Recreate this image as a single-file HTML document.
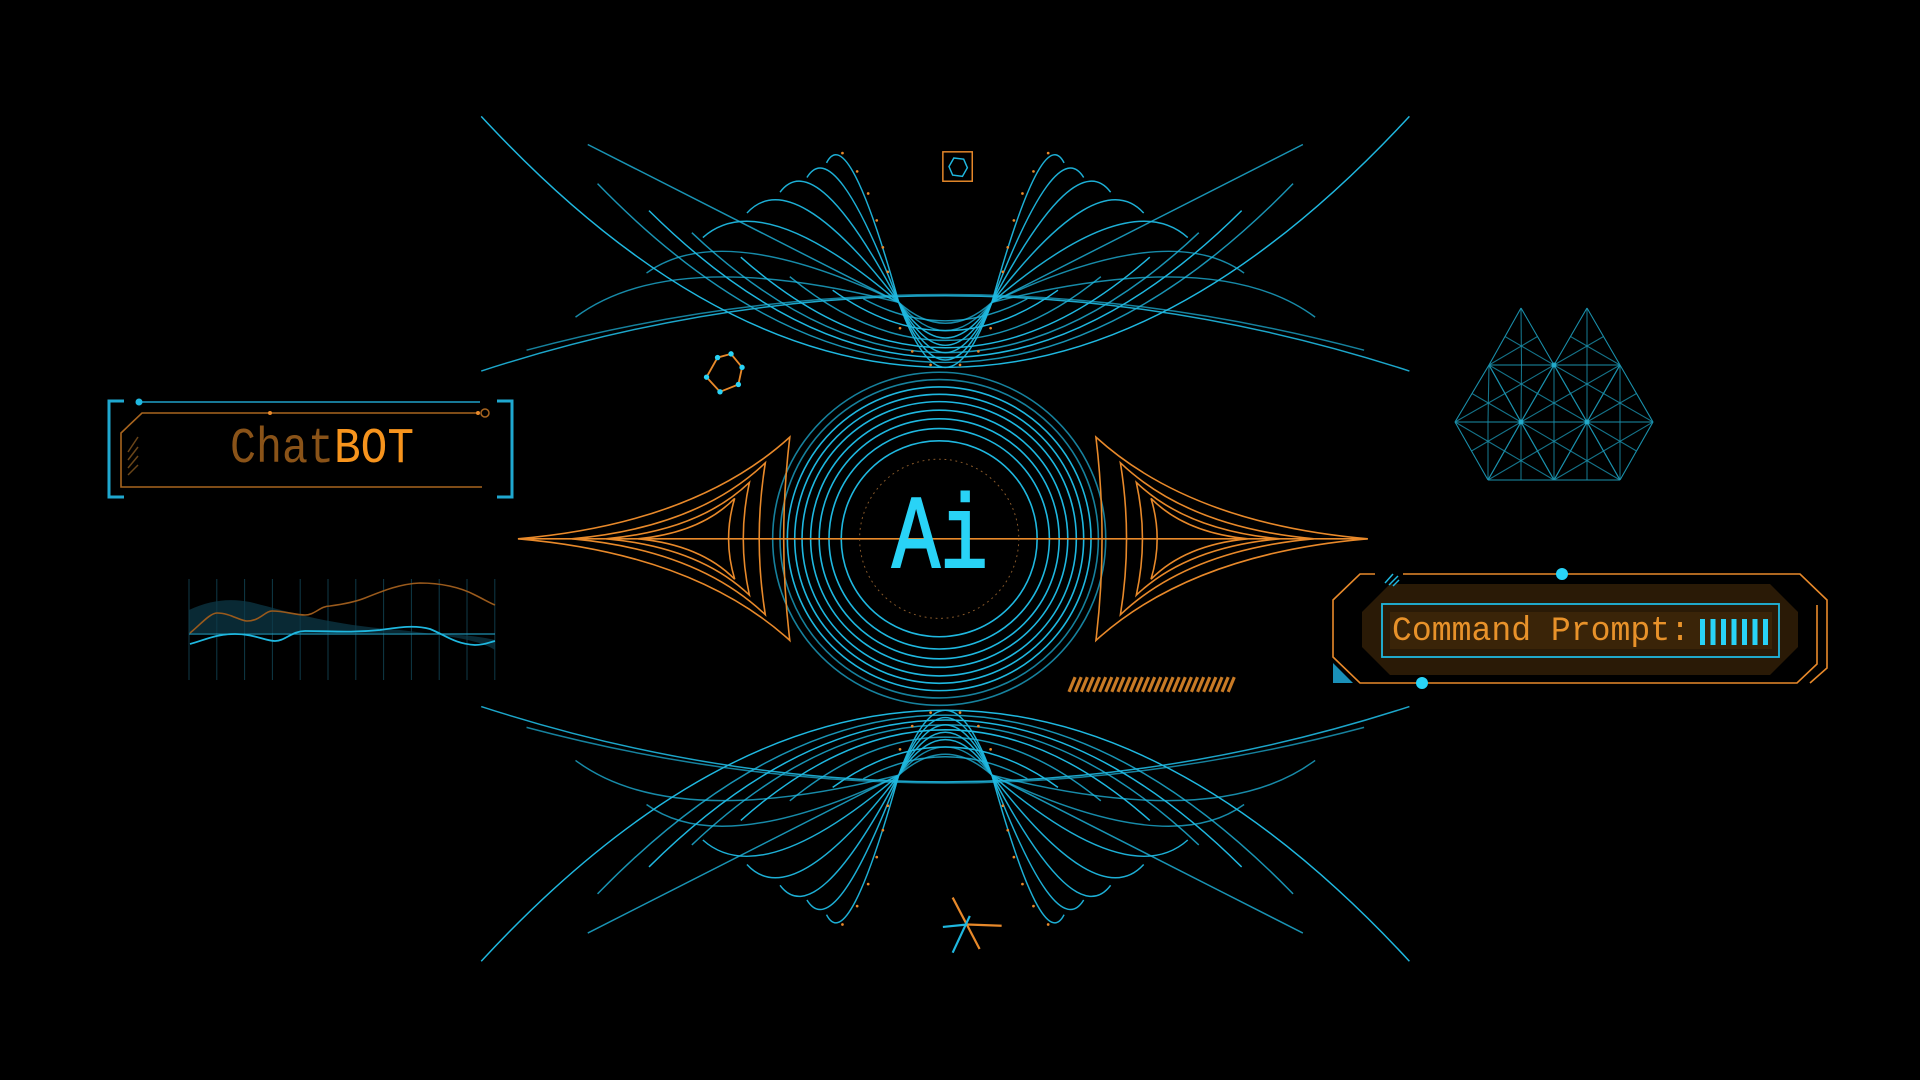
<!DOCTYPE html>
<html><head><meta charset="utf-8"><style>
html,body{margin:0;padding:0;background:#000;width:1920px;height:1080px;overflow:hidden}
svg{display:block}
text{font-family:"Liberation Mono","DejaVu Sans Mono",monospace}
</style></head><body>
<svg id="s" width="1920" height="1080" viewBox="0 0 1920 1080" xmlns="http://www.w3.org/2000/svg">
<rect width="1920" height="1080" fill="#000"/>
<g id="disp" transform="scale(1.2245)">
  <g id="wtop" fill="none" stroke="#1fb8e0" stroke-width="1.2"></g>
  <g id="wbot" fill="none" stroke="#1fb8e0" stroke-width="1.2" transform="translate(0,880) scale(1,-1)"></g>
  <g id="circ" fill="none" stroke="#1fb8e0" stroke-width="1.3"></g>
  <g id="orng" fill="none" stroke="#e8892a" stroke-width="1.3"></g>
  <line x1="423" y1="440" x2="1117" y2="440" stroke="#e8892a" stroke-width="1.3"/>
  <circle cx="767" cy="440" r="65" fill="none" stroke="#8a5a2a" stroke-width="0.8" stroke-dasharray="1.5 3"/>
  <rect x="770" y="124" width="24" height="24" fill="none" stroke="#e8892a" stroke-width="1.2"/>
  <polygon points="779,129 787,130 790,137 786,144 778,143 775,136" fill="none" stroke="#1fb8e0" stroke-width="1.2"/>
  <polygon points="586,292 597,289 606,300 603,314 588,320 577,308" fill="none" stroke="#e8892a" stroke-width="1.5"/>
  <g fill="#29d3f6"><circle cx="586" cy="292" r="2.2"/><circle cx="597" cy="289" r="2.2"/><circle cx="606" cy="300" r="2.2"/><circle cx="603" cy="314" r="2.2"/><circle cx="588" cy="320" r="2.2"/><circle cx="577" cy="308" r="2.2"/></g>
  <g stroke-width="1.8"><line x1="778" y1="733" x2="800" y2="775" stroke="#e8892a"/><line x1="790" y1="755" x2="818" y2="756" stroke="#e8892a"/><line x1="778" y1="778" x2="792" y2="748" stroke="#1fb8e0"/><line x1="790" y1="755" x2="770" y2="757" stroke="#1fb8e0"/></g>
  <g id="hatch" stroke="#c87a25" stroke-width="2.6"></g>
</g>
<g id="net" stroke="#1fa8c8" stroke-width="1.1" fill="none" opacity="0.85"></g>
<text x="940" y="567" font-size="104" fill="#29d3f6" stroke="#29d3f6" stroke-width="2" text-anchor="middle" textLength="96" lengthAdjust="spacingAndGlyphs">Ai</text>

<g fill="none" stroke-width="3" stroke="#1fa8d0">
  <polyline points="124,401 109,401 109,497 124,497"/>
  <polyline points="497,401 512,401 512,497 497,497"/>
</g>
<line x1="139" y1="402" x2="480" y2="402" stroke="#1f9fc8" stroke-width="1.6"/>
<circle cx="139" cy="402" r="3.5" fill="#1fb8e0"/>
<polyline points="478,413 142,413 121,433 121,487 482,487" fill="none" stroke="#a8651f" stroke-width="1.6"/>
<circle cx="485" cy="413" r="4" fill="none" stroke="#a8651f" stroke-width="1.5"/>
<circle cx="270" cy="413" r="2" fill="#e8892a"/><circle cx="478" cy="413" r="2" fill="#e8892a"/>
<g stroke="#6a4518" stroke-width="1.5"><line x1="128" y1="452" x2="138" y2="437"/><line x1="128" y1="460" x2="138" y2="447"/><line x1="128" y1="468" x2="138" y2="456"/><line x1="128" y1="475" x2="138" y2="465"/></g>
<text x="230" y="462" font-size="50" fill="#8a5318" textLength="104" lengthAdjust="spacingAndGlyphs">Chat</text>
<text x="334" y="462" font-size="50" fill="#f7941d" textLength="80" lengthAdjust="spacingAndGlyphs">BOT</text>

<g id="grid" stroke="#0f3a48" stroke-width="1"></g>
<path d="M189,610 C210,600 230,598 250,602 C290,612 330,625 400,630 C450,636 480,640 495,650 L495,640 C470,634 440,634 400,633 L189,633 Z" fill="#0d3a4a" opacity="0.7"/>
<line x1="189" y1="634" x2="495" y2="634" stroke="#1f8fb0" stroke-width="1.2"/>
<path d="M190,633 C200,625 210,613 217,613 C230,613 240,621 247,621 C260,621 265,611 272,611 C285,611 295,615 305,615 C315,615 320,606 330,606 C345,604 355,602 365,598 C385,590 400,584 420,583 C440,583 460,587 475,595 C485,600 490,603 495,605" fill="none" stroke="#9a5a1c" stroke-width="1.6"/>
<path d="M190,644 C205,640 215,634 235,634 C255,634 265,641 275,641 C285,641 292,631 305,631 C330,631 350,633 380,630 C400,627 415,625 430,629 C445,635 455,644 475,645 C485,645 490,642 495,641" fill="none" stroke="#1fb8e0" stroke-width="1.8"/>

<polygon points="1390,584 1770,584 1798,612 1798,647 1770,675 1390,675 1362,647 1362,612" fill="#2a1a06"/>
<rect x="1390" y="612" width="382" height="37" fill="#3a2408"/>
<rect x="1382" y="604" width="397" height="53" fill="none" stroke="#1fb8e0" stroke-width="1.8"/>
<polyline points="1375,574 1360,574 1333,600 1333,657 1360,683 1797,683 1817,664 1817,605" fill="none" stroke="#e8892a" stroke-width="1.6"/>
<polyline points="1403,574 1800,574 1827,600 1827,668 1810,683" fill="none" stroke="#e8892a" stroke-width="1.6"/>
<g stroke="#1fb8e0" stroke-width="1.5"><line x1="1385" y1="583" x2="1393" y2="574"/><line x1="1389" y1="585" x2="1398" y2="576"/><line x1="1393" y1="586" x2="1399" y2="580"/></g>
<polygon points="1333,663 1333,683 1353,683" fill="#1a90b8"/>
<circle cx="1562" cy="574" r="6" fill="#29d3f6"/>
<circle cx="1422" cy="683" r="6" fill="#29d3f6"/>
<text x="1392" y="640" font-size="34" fill="#e8922a" textLength="298" lengthAdjust="spacingAndGlyphs">Command Prompt:</text>
<g fill="#29d3f6"><rect x="1700" y="619" width="5" height="26"/><rect x="1710.5" y="619" width="5" height="26"/><rect x="1721" y="619" width="5" height="26"/><rect x="1731.5" y="619" width="5" height="26"/><rect x="1742" y="619" width="5" height="26"/><rect x="1752.5" y="619" width="5" height="26"/><rect x="1763" y="619" width="5" height="26"/></g>
</svg>
<script>
const NS="http://www.w3.org/2000/svg";
function P(g,d,op,w){const p=document.createElementNS(NS,"path");p.setAttribute("d",d);if(op)p.setAttribute("opacity",op);if(w)p.setAttribute("stroke-width",w);g.appendChild(p);}
function L(g,x1,y1,x2,y2,op){const l=document.createElementNS(NS,"line");l.setAttribute("x1",x1);l.setAttribute("y1",y1);l.setAttribute("x2",x2);l.setAttribute("y2",y2);if(op)l.setAttribute("opacity",op);g.appendChild(l);}
const ax=772;
function wave(g){
  const U=[[393,95,300],[488,150,296],[530,172,292],[565,190,288],[605,210,284],[645,226,278],[680,237,270],[705,244,262]];
  U.forEach((u,i)=>P(g,`M${u[0]},${u[1]} Q${ax},${2*u[2]-u[1]} ${2*ax-u[0]},${u[1]}`,i%2?0.8:1));
  const FL=[734,247],FR=[2*ax-734,247];
  const E=[[675,133],[659,145],[637,157],[610,174],[574,194],[528,223],[470,259]];
  E.forEach((e,i)=>{
    const cx=e[0]+(FL[0]-e[0])*0.3, cy=Math.min(e[1],FL[1])-35-i*2;
    const yb=300-i*6;
    P(g,`M${e[0]},${e[1]} Q${cx},${cy} ${FL[0]},${FL[1]} Q${ax},${2*yb-247} ${FR[0]},${FR[1]} Q${2*ax-cx},${cy} ${2*ax-e[0]},${e[1]}`,i>4?0.75:0.95);
  });
  P(g,`M393,303 Q${ax},180 1151,303`,0.9);
  P(g,`M430,286 Q${ax},195 1114,286`,0.7);
  P(g,`M480,118 L734,247`,0.8);P(g,`M1064,118 L810,247`,0.8);
}
wave(document.getElementById("wtop"));wave(document.getElementById("wbot"));
const disp=document.getElementById("disp");
[[688,125],[700,140],[709,158],[716,180],[721,202],[725,222],[735,268],[745,287],[760,298]].forEach(p=>{
  [[p[0],p[1]],[2*ax-p[0],p[1]],[p[0],880-p[1]],[2*ax-p[0],880-p[1]]].forEach(q=>{const c=document.createElementNS(NS,"circle");c.setAttribute("cx",q[0]);c.setAttribute("cy",q[1]);c.setAttribute("r",1.1);c.setAttribute("fill","#e8892a");disp.appendChild(c);});
});
const cg=document.getElementById("circ");
[80,90,98,105,112,118,124,130,136].forEach((r,i)=>{const c=document.createElementNS(NS,"circle");c.setAttribute("cx",767);c.setAttribute("cy",440);c.setAttribute("r",r);if(i>6)c.setAttribute("opacity",0.7);cg.appendChild(c);});
const og=document.getElementById("orng");const oax=770;
[[423,645,357],[467,625,378],[495,612,394],[521,600,407]].forEach(s=>{
  const [tx,px,py]=s;const by=880-py;
  const c1x=tx+(px-tx)*0.65, c1y=440-(440-py)*0.15;
  const d=(m)=>`M${m(tx)},440 Q${m(c1x)},${c1y} ${m(px)},${py} Q${m(px-10)},440 ${m(px)},${by} Q${m(c1x)},${880-c1y} ${m(tx)},440 Z`;
  P(og,d(x=>x));P(og,d(x=>2*oax-x));
});
const hg=document.getElementById("hatch");
for(let x=873;x<1004;x+=5)L(hg,x,565,x+5,553);
const gg=document.getElementById("grid");
for(let i=0;i<12;i++){const x=189+i*27.8;L(gg,x,579,x,680);}
const ng=document.getElementById("net");
const T=[[[1521,308],[1489,365],[1554,365]],[[1587,308],[1554,365],[1620,365]],
[[1489,365],[1455,422],[1521,422]],[[1554,365],[1521,422],[1587,422]],[[1620,365],[1587,422],[1653,422]],
[[1489,365],[1554,365],[1521,422]],[[1554,365],[1620,365],[1587,422]],
[[1455,422],[1521,422],[1488,480]],[[1521,422],[1587,422],[1554,480]],[[1587,422],[1653,422],[1620,480]],
[[1521,422],[1488,480],[1554,480]],[[1587,422],[1554,480],[1620,480]]];
T.forEach(t=>{for(let i=0;i<3;i++){const a=t[i],b=t[(i+1)%3],c=t[(i+2)%3];L(ng,a[0],a[1],b[0],b[1]);L(ng,a[0],a[1],(b[0]+c[0])/2,(b[1]+c[1])/2,0.8);}});
[[1521,422],[1587,422],[1554,365]].forEach(p=>{const c=document.createElementNS(NS,"circle");c.setAttribute("cx",p[0]);c.setAttribute("cy",p[1]);c.setAttribute("r",2.5);c.setAttribute("fill","#29c8ee");c.setAttribute("stroke","none");ng.appendChild(c);});
</script>
</body></html>
